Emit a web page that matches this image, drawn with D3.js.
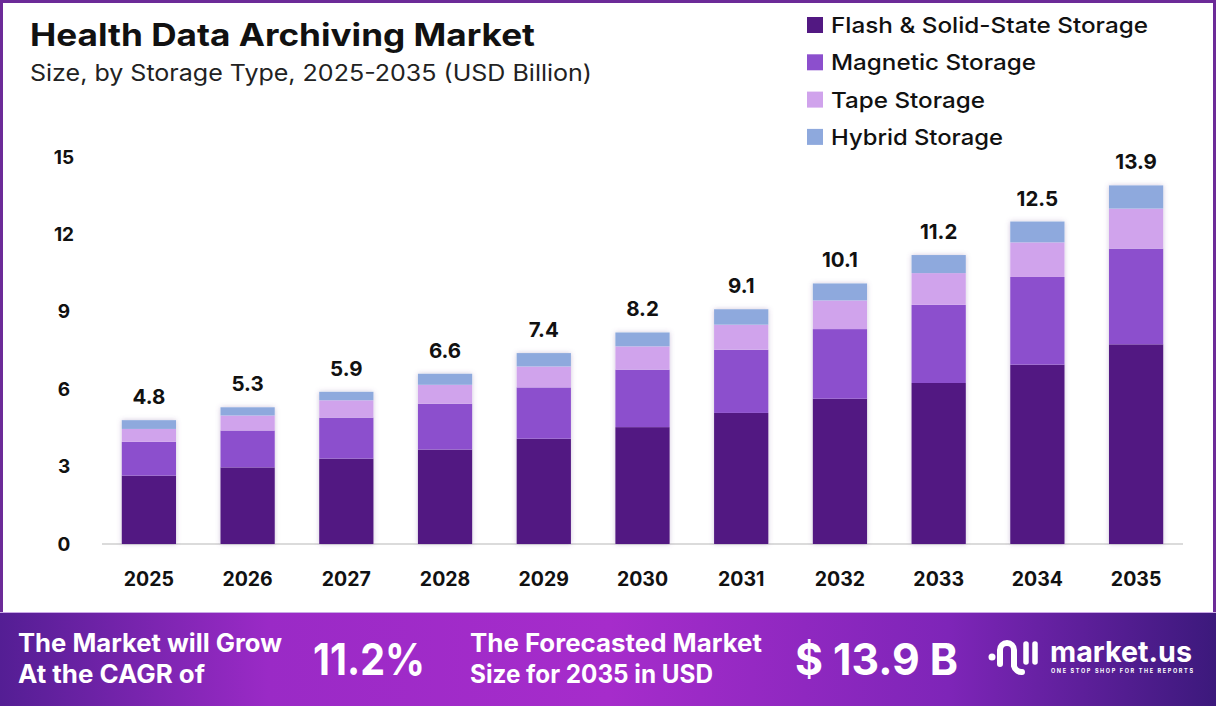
<!DOCTYPE html>
<html>
<head>
<meta charset="utf-8">
<script src="https://cdn.jsdelivr.net/npm/d3@7"></script>
<style>
  body { margin: 0; background: #fff; }
  text { font-family: Inter, "Open Sans", sans-serif; }
</style>
</head>
<body>
<div id="chart"></div>
<script>
// chart data
const years = ["2025","2026","2027","2028","2029","2030","2031","2032","2033","2034","2035"]
const seriesNames = ["Flash & Solid-State Storage","Magnetic Storage","Tape Storage","Hybrid Storage"]
const flash    = [2.65, 2.97, 3.31, 3.66, 4.08, 4.53, 5.08, 5.63, 6.24, 6.95, 7.74]
const magnetic = [1.31, 1.43, 1.59, 1.78, 1.99, 2.23, 2.45, 2.70, 3.03, 3.40, 3.71]
const tape     = [0.50, 0.58, 0.67, 0.73, 0.81, 0.90, 0.97, 1.11, 1.23, 1.34, 1.55]
const hybrid   = [0.34, 0.32, 0.33, 0.43, 0.52, 0.54, 0.60, 0.66, 0.70, 0.81, 0.90]
const totals   = [4.8, 5.3, 5.9, 6.6, 7.4, 8.2, 9.1, 10.1, 11.2, 12.5, 13.9]
const yTicks   = [0, 3, 6, 9, 12, 15]
const colors   = ["#521882", "#8c4fcd", "#d0a3ec", "#8ea9dd"]

const W = 1216, H = 706
const margin = {top: 157, right: 33, bottom: 162, left: 102},
    width = W - margin.left - margin.right,
    height = H - margin.top - margin.bottom

const root = d3.select("#chart")
  .append("svg")
    .attr("width", W)
    .attr("height", H)

const defs = root.append("defs")
const shadow = defs.append("filter").attr("id", "shadow")
    .attr("x", "-20%").attr("y", "-5%").attr("width", "140%").attr("height", "110%")
shadow.append("feDropShadow")
    .attr("dx", 0).attr("dy", 0).attr("stdDeviation", 2.5)
    .attr("flood-color", "#7a5a9a").attr("flood-opacity", 0.35)

const grad = defs.append("linearGradient").attr("id", "banner")
    .attr("x1", "0%").attr("x2", "100%").attr("y1", "0%").attr("y2", "0%")
grad.selectAll("stop")
  .data([[0, "#541e94"], [0.22, "#9a2ac6"], [0.5, "#a62ccb"], [0.78, "#7e25b8"], [1, "#3c197c"]])
  .enter().append("stop")
    .attr("offset", d => d[0]).attr("stop-color", d => d[1])

// frame
root.append("rect")
    .attr("x", 1.5).attr("y", 1.5).attr("width", W - 3).attr("height", 620)
    .attr("fill", "#fff").attr("stroke", "#6c2a98").attr("stroke-width", 3)

// titles (fonts are narrower than the original, so pin the widths)
root.append("text").attr("x", 30).attr("y", 46)
    .attr("font-size", 31).attr("font-weight", 700).attr("fill", "#111")
    .attr("textLength", 505).attr("lengthAdjust", "spacingAndGlyphs")
    .text("Health Data Archiving Market")
root.append("text").attr("x", 30).attr("y", 81)
    .attr("font-size", 22.5).attr("font-weight", 400).attr("fill", "#222")
    .attr("textLength", 562).attr("lengthAdjust", "spacingAndGlyphs")
    .text("Size, by Storage Type, 2025-2035 (USD Billion)")

// legend
const legendWidths = [317, 205, 154, 172]
const legend = root.append("g").attr("transform", "translate(807, 0)")
const legendRow = legend.selectAll("g")
  .data(seriesNames)
  .enter().append("g")
    .attr("transform", (d, i) => `translate(0, ${25 + i * 37.3})`)
legendRow.append("rect")
    .attr("x", 0).attr("y", -8).attr("width", 16).attr("height", 16)
    .attr("fill", (d, i) => colors[i])
legendRow.append("text")
    .attr("x", 24).attr("y", 0).attr("dy", "0.36em")
    .attr("font-size", 22).attr("font-weight", 500).attr("fill", "#111")
    .attr("textLength", (d, i) => legendWidths[i]).attr("lengthAdjust", "spacingAndGlyphs")
    .text(d => d)

const svg = root.append("g")
    .attr("transform", `translate(${margin.left}, ${margin.top})`)

const xScale = d3.scaleBand().domain(years).range([0, width]).paddingInner(0.45).paddingOuter(0.2)
const yScale = d3.scaleLinear().domain([0, 15]).range([height, 0])

// stack the four series
const rows = years.map((y, i) => ({year: y, s0: flash[i], s1: magnetic[i], s2: tape[i], s3: hybrid[i]}))
const stacked = d3.stack().keys(["s0", "s1", "s2", "s3"])(rows)

// baseline
svg.append("line")
    .attr("x1", 0).attr("x2", width)
    .attr("y1", yScale(0)).attr("y2", yScale(0))
    .attr("stroke", "#cfcfcf").attr("stroke-width", 1.5)

// bar shadows
svg.append("g").selectAll("rect")
  .data(years)
  .enter().append("rect")
    .attr("x", d => xScale(d))
    .attr("y", (d, i) => yScale(totals[i]))
    .attr("width", xScale.bandwidth())
    .attr("height", (d, i) => yScale(0) - yScale(totals[i]))
    .attr("fill", "#fff")
    .attr("filter", "url(#shadow)")

svg.append("g").selectAll("g")
  .data(stacked)
  .enter().append("g")
    .attr("fill", (d, i) => colors[i])
  .selectAll("rect")
  .data(d => d)
  .enter().append("rect")
    .attr("x", d => xScale(d.data.year))
    .attr("y", d => yScale(d[1]))
    .attr("width", xScale.bandwidth())
    .attr("height", d => yScale(d[0]) - yScale(d[1]))

// value labels
svg.append("g").selectAll("text")
  .data(years)
  .enter().append("text")
    .attr("x", d => xScale(d) + xScale.bandwidth() / 2)
    .attr("y", (d, i) => yScale(totals[i]) - 16)
    .attr("text-anchor", "middle")
    .attr("font-size", 20.5).attr("font-weight", 700).attr("fill", "#111")
    .text((d, i) => totals[i].toFixed(1))

// x labels
svg.append("g").selectAll("text")
  .data(years)
  .enter().append("text")
    .attr("x", d => xScale(d) + xScale.bandwidth() / 2)
    .attr("y", height + 35)
    .attr("dy", "0.35em")
    .attr("text-anchor", "middle")
    .attr("font-size", 19.5).attr("font-weight", 700).attr("fill", "#111")
    .text(d => d)

// y labels
svg.append("g").selectAll("text")
  .data(yTicks)
  .enter().append("text")
    .attr("x", -38)
    .attr("y", d => yScale(d))
    .attr("dy", "0.35em")
    .attr("text-anchor", "middle")
    .attr("font-size", 19).attr("font-weight", 700).attr("fill", "#111")
    .text(d => d)

// bottom banner
const banner = root.append("g").attr("transform", "translate(0, 612)")
banner.append("rect").attr("width", W).attr("height", 94).attr("fill", "url(#banner)")
banner.append("line").attr("x1", 0).attr("x2", W).attr("y1", 0.5).attr("y2", 0.5)
    .attr("stroke", "#c9a8e6").attr("stroke-width", 1)

const bannerFont = "'Roboto', sans-serif"
function bannerText(x, y, size, len, str) {
  banner.append("text").attr("x", x).attr("y", y)
    .attr("font-family", bannerFont)
    .attr("font-size", size).attr("font-weight", 700).attr("fill", "#fff")
    .attr("textLength", len).attr("lengthAdjust", "spacingAndGlyphs")
    .text(str)
}
bannerText(18, 40, 25, 264, "The Market will Grow")
bannerText(18, 71, 25, 187, "At the CAGR of")
bannerText(313, 63, 44, 112, "11.2%")
bannerText(470, 40, 25, 292, "The Forecasted Market")
bannerText(470, 71, 25, 243, "Size for 2035 in USD")
bannerText(795, 63, 44, 163, "$ 13.9 B")

// logo
const logo = banner.append("g").attr("transform", "translate(988, 0)")
logo.append("circle").attr("cx", 4).attr("cy", 45).attr("r", 3.5).attr("fill", "#fff")
logo.append("path")
    .attr("d", "M12,52 L12,38 A7,7 0 0 1 26,38 L26,54 A8,8 0 0 0 34,60")
    .attr("fill", "none").attr("stroke", "#fff").attr("stroke-width", 6).attr("stroke-linecap", "round")
logo.append("line").attr("x1", 38).attr("x2", 38).attr("y1", 32).attr("y2", 50)
    .attr("stroke", "#fff").attr("stroke-width", 5.5).attr("stroke-linecap", "round")
logo.append("line").attr("x1", 47).attr("x2", 47).attr("y1", 32).attr("y2", 50)
    .attr("stroke", "#fff").attr("stroke-width", 5.5).attr("stroke-linecap", "round")
logo.append("text").attr("x", 62).attr("y", 50)
    .attr("font-family", "Inter, sans-serif")
    .attr("font-size", 29).attr("font-weight", 700).attr("fill", "#fff")
    .attr("textLength", 142).attr("lengthAdjust", "spacingAndGlyphs")
    .text("market.us")
logo.append("text").attr("x", 63).attr("y", 61)
    .attr("font-family", "Inter, sans-serif")
    .attr("font-size", 5.5).attr("font-weight", 700).attr("fill", "#fff")
    .attr("textLength", 142).attr("lengthAdjust", "spacing")
    .text("ONE STOP SHOP FOR THE REPORTS")
</script>
</body>
</html>
